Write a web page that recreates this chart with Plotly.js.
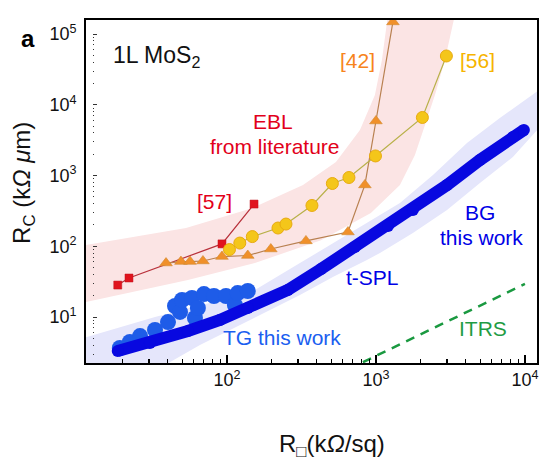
<!DOCTYPE html>
<html>
<head>
<meta charset="utf-8">
<script src="https://cdn.plot.ly/plotly-3.0.1.min.js"></script>
<style>html,body{margin:0;padding:0;background:#fff;}#chart{width:540px;height:472px;}</style>
</head>
<body>
<div id="chart"></div>
<script>
// ---- data (R_sheet in kOhm/sq, R_c in kOhm*um) ----
// EBL literature band (pink)
const ebl_upper_x = [10, 53.1, 149, 324, 539, 781, 984, 1097, 1204];
const ebl_upper_y = [100, 181, 348, 734, 1550, 4400, 13700, 42900, 186000];
const ebl_lower_x = [3388, 2904, 2489, 2134, 1827, 1449, 925, 428, 154, 54.7, 10];
const ebl_lower_y = [186000, 42900, 13700, 5180, 1950, 734, 295, 122, 57.9, 33.3, 15.4];
// t-SPL band (lavender)
const tspl_upper_x = [10, 32.9, 91.1, 154, 309, 514, 870, 1449, 2415, 4083, 6786, 10300, 17200];
const tspl_upper_y = [4.8, 10, 17.4, 24.1, 57.9, 111, 213, 408, 1016, 2880, 6500, 12400, 26300];
const tspl_lower_x = [17200, 12600, 8300, 4990, 3000, 1770, 1064, 870, 514, 309, 143, 65.9, 38.4, 10];
const tspl_lower_y = [7890, 4850, 1820, 783, 325, 154, 80.4, 64.0, 36.7, 20.5, 9.07, 4.02, 2.10, 1];
// [57] red squares
const ref57_x = [18.5, 22.0, 92.6, 152];
const ref57_y = [28.3, 35.6, 108, 395];
// [42] orange triangles
const ref42_x = [39.0, 49.1, 56.5, 69.0, 92.6, 138, 197, 339, 649, 843, 1000, 1300];
const ref42_y = [57.9, 60.8, 60.8, 61.9, 71.6, 74.0, 91.4, 119, 159, 735, 5890, 148000];
// [56] yellow circles
const ref56_x = [104, 122, 148, 220, 249, 372, 510, 659, 993, 2050, 2970];
const ref56_y = [89.9, 111, 137, 181, 206, 377, 771, 937, 1890, 6610, 48900];
// this work, back gate (t-SPL)
const bg_x = [18.5, 30.4, 54.7, 89.7, 138, 256, 428, 722, 1205, 1770, 3000, 4990, 8300, 9840];
const bg_y = [3.30, 4.30, 6.34, 9.07, 13.4, 24.1, 47.6, 97.5, 193, 325, 734, 1660, 3500, 4400];
// this work, top gate
const tg_x = [19.1, 22.3, 26.1, 32.9, 40.2, 44.8, 48.4, 49.9, 58.2, 61.0, 63.8, 70.1, 81.8, 98.5, 113, 118, 138];
const tg_y = [3.65, 4.44, 5.38, 6.55, 8.49, 14.3, 11.8, 17.4, 18.6, 9.68, 13.4, 21.1, 19.8, 19.8, 14.8, 21.8, 23.3];
// ITRS target line
const itrs_x = [818, 10000];
const itrs_y = [2.3, 29.3];
// tick labels
const x_tickvals = [100, 1000, 10000];
const x_ticktext = ['10<sup>2</sup>', '10<sup>3</sup>', '10<sup>4</sup>'];
const y_tickvals = [10, 100, 1000, 10000, 100000];
const y_ticktext = ['10<sup>1</sup>', '10<sup>2</sup>', '10<sup>3</sup>', '10<sup>4</sup>', '10<sup>5</sup>'];

const traces = [
  {x: ebl_upper_x.concat(ebl_lower_x), y: ebl_upper_y.concat(ebl_lower_y), mode: 'lines',
   fill: 'toself', fillcolor: '#fbe4e4', line: {width: 0, color: 'rgba(0,0,0,0)'}, hoverinfo: 'skip'},
  {x: tspl_upper_x.concat(tspl_lower_x), y: tspl_upper_y.concat(tspl_lower_y), mode: 'lines',
   fill: 'toself', fillcolor: '#e5e6fb', line: {width: 0, color: 'rgba(0,0,0,0)'}, hoverinfo: 'skip'},
  {x: itrs_x, y: itrs_y, mode: 'lines', line: {color: '#1a9940', width: 2.5, dash: '9px,7px'}},
  {x: tg_x, y: tg_y, mode: 'markers', marker: {color: '#1e5ce8', size: 16}},
  {x: bg_x, y: bg_y, mode: 'lines+markers', line: {color: '#0808e0', width: 12}, marker: {color: '#0808e0', size: 12}},
  {x: ref57_x, y: ref57_y, mode: 'lines+markers', line: {color: '#b8303a', width: 1.2},
   marker: {symbol: 'square', size: 8, color: '#e0141e', line: {color: '#c0101a', width: 0.5}}},
  {x: ref42_x, y: ref42_y, mode: 'lines+markers', line: {color: '#b88050', width: 1.2},
   marker: {symbol: 'triangle-up', size: 11, color: '#f0902a', line: {color: '#d08a30', width: 0.6}}},
  {x: ref56_x, y: ref56_y, mode: 'lines+markers', line: {color: '#b8b048', width: 1.2},
   marker: {symbol: 'circle', size: 12, color: '#f4c61a', line: {color: '#e8aa10', width: 1}}},
  {x: [null], y: [null], yaxis: 'y2', mode: 'markers', hoverinfo: 'skip'}
];

function ann(text, x, y, size, color, extra) {
  return Object.assign({text: text, x: x, y: y, xref: 'paper', yref: 'paper', showarrow: false,
    xanchor: 'center', yanchor: 'middle', font: {size: size, color: color}}, extra || {});
}

const layout = {
  width: 540, height: 472,
  margin: {l: 86, r: 3, t: 20, b: 109},
  paper_bgcolor: '#ffffff', plot_bgcolor: '#ffffff',
  showlegend: false, hovermode: false,
  font: {family: 'Liberation Sans, Arial, sans-serif', color: '#111'},
  xaxis: {type: 'log', range: [1.054, 4.081], tickmode: 'array', tickvals: x_tickvals, ticktext: x_ticktext,
    ticks: 'inside', ticklen: 8, tickwidth: 1.3, tickcolor: '#000',
    minor: {ticks: 'inside', ticklen: 4, tickwidth: 1.1, tickcolor: '#000', dtick: 'D1', showgrid: false},
    showgrid: false, zeroline: false, showline: true, mirror: true, linecolor: '#000', linewidth: 1.8,
    ticklabelstandoff: 0, tickfont: {size: 18, color: '#111'}},
  yaxis: {type: 'log', range: [0.35, 5.198], tickmode: 'array', tickvals: y_tickvals, ticktext: y_ticktext,
    ticks: '', showgrid: false, zeroline: false, showline: true, mirror: true,
    linecolor: '#000', linewidth: 1.8, ticklabelstandoff: 4, tickfont: {size: 18, color: '#111'}},
  yaxis2: {type: 'log', range: [0.35, 5.198], dtick: 1, overlaying: 'y', anchor: 'free', position: 0.0133,
    side: 'left', showticklabels: false, showline: false, showgrid: false, zeroline: false,
    ticks: 'inside', ticklen: 4, tickwidth: 1, tickcolor: '#333',
    minor: {ticks: 'inside', ticklen: 1.5, tickwidth: 1, tickcolor: '#333', dtick: 'D1', showgrid: false}},
  annotations: [
    ann('<b>a</b>', -0.1286, 0.9475, 24, '#000'),
    ann('1L MoS<sub>2</sub>', 0.0554, 0.895, 23, '#111', {xanchor: 'left'}),
    ann('[42]', 0.603, 0.883, 21, '#f7841c'),
    ann('[56]', 0.869, 0.883, 21, '#f6b400'),
    ann('EBL', 0.415, 0.705, 21, '#e2001a'),
    ann('from literature', 0.418, 0.632, 21, '#e2001a'),
    ann('[57]', 0.286, 0.472, 21, '#e2001a'),
    ann('BG', 0.874, 0.440, 21, '#0000e6'),
    ann('this work', 0.878, 0.365, 21, '#0000e6'),
    ann('t-SPL', 0.636, 0.248, 21, '#0000e6'),
    ann('TG this work', 0.4346, 0.0758, 21, '#1a5ef0'),
    ann('ITRS', 0.880, 0.102, 21, '#1f9c45'),
    ann('R<sub>C</sub> (k<i>Ω μ</i>m)', -0.1375, 0.525, 24, '#111', {textangle: -90}),
    ann('R<sub>□</sub>(k<i>Ω</i>/sq)', 0.545, -0.24, 24, '#111')
  ]
};

Plotly.newPlot('chart', traces, layout, {staticPlot: true, displayModeBar: false});
</script>
</body>
</html>
